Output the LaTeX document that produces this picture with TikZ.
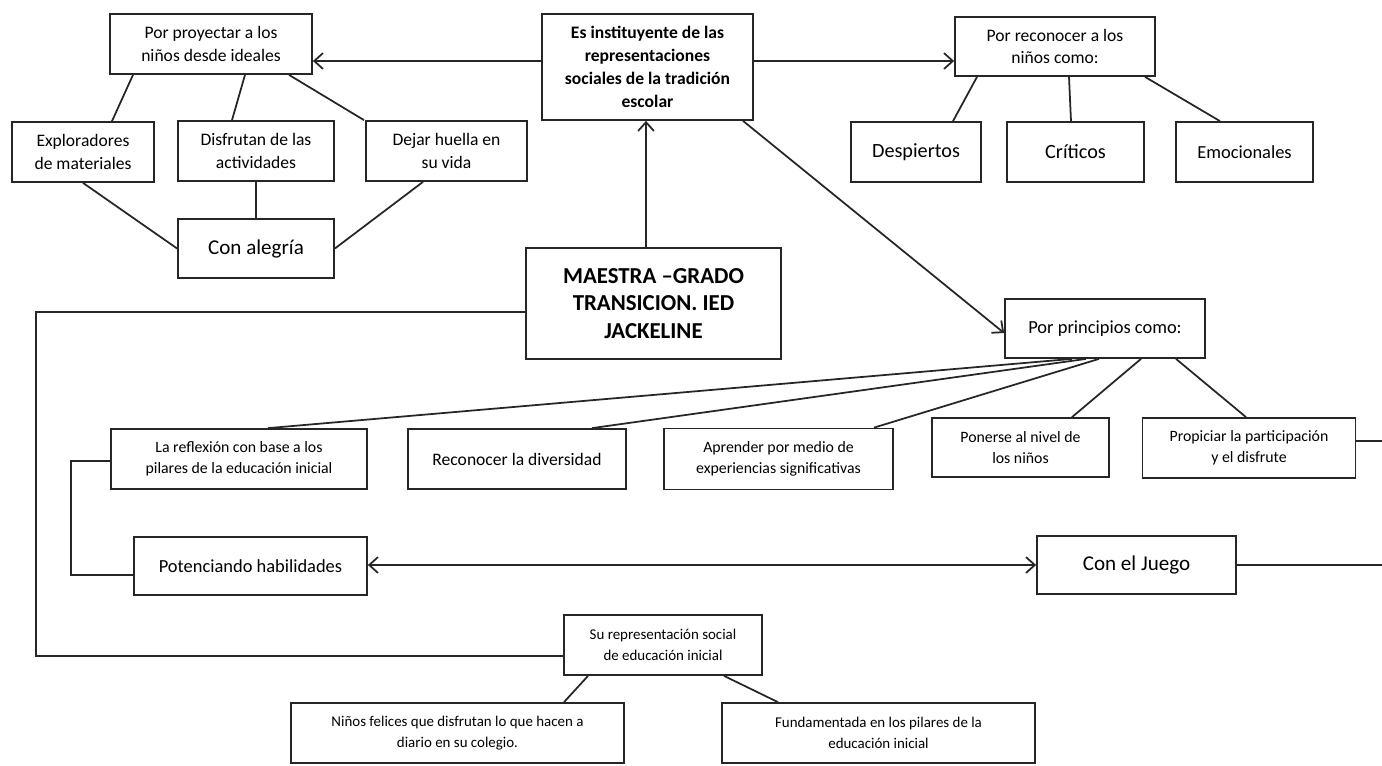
\documentclass[tikz,border=0pt]{standalone}
\usepackage{fontspec}
\setmainfont{Carlito}
\usetikzlibrary{arrows.meta}
\tikzset{
  bx/.style 2 args={draw=black!85, line width=1pt, fill=white, align=center, inner sep=2pt,
    minimum width=#1*0.02cm, minimum height=#2*0.02cm},
  fs/.style 2 args={font=\fontsize{#1}{#2}\selectfont},
  ln/.style={draw=black!85, line width=1pt},
  ar/.style={ln, -{Straight Barb[length=5pt,width=9pt]}},
  dar/.style={ln, {Straight Barb[length=5pt,width=9pt]}-{Straight Barb[length=5pt,width=9pt]}},
}
\begin{document}
\begin{tikzpicture}[x=0.02cm, y=-0.02cm]
\useasboundingbox (0,0) rectangle (1382,765);
% nodes
\node[bx={202}{60}, fs={10}{13}] (pp) at (211,44) {Por proyectar a los\\niños desde ideales};
\node[bx={142}{60}, fs={10}{13}] (ex) at (83,152) {Exploradores\\de materiales};
\node[bx={156}{60}, fs={10}{13}] (di) at (256,151) {Disfrutan de las\\actividades};
\node[bx={161}{60}, fs={10}{13}] (de) at (446.5,151) {Dejar huella en\\su vida};
\node[bx={156}{59}, fs={12}{14}] (ca) at (256,248.5) {Con alegría};
\node[bx={211}{106}, font=\bfseries\fontsize{10}{13}\selectfont] (es) at (647.5,67) {Es instituyente de las\\representaciones\\sociales de la tradición\\escolar};
\node[bx={255}{111}, font=\bfseries\fontsize{13}{15.5}\selectfont] (ma) at (653.5,303.5) {MAESTRA –GRADO\\TRANSICION. IED\\JACKELINE};
\node[bx={200}{59}, fs={10}{13}] (pr) at (1055,46.5) {Por reconocer a los\\niños como:};
\node[bx={130}{60}, fs={11.5}{14}] (dp) at (916,152) {Despiertos};
\node[bx={137}{60}, fs={11.5}{14}] (cr) at (1075.5,152) {Críticos};
\node[bx={137}{60}, fs={10.5}{13}] (em) at (1244.5,152) {Emocionales};
\node[bx={200}{59}, fs={10.5}{13}] (pc) at (1105,328.5) {Por principios como:};
\node[bx={256}{60}, fs={9}{12}] (rf) at (239,459) {La reflexión con base a los\\pilares de la educación inicial};
\node[bx={218}{60}, fs={10}{13}] (rd) at (517,459) {Reconocer la diversidad};
\node[bx={229}{61}, fs={9}{12}] (ap) at (778.5,459) {Aprender por medio de\\experiencias significativas};
\node[bx={177}{59}, fs={9}{12}] (po) at (1020.5,447.5) {Ponerse al nivel de\\los niños};
\node[bx={213}{60}, fs={9}{12}] (pa) at (1249,448) {Propiciar la participación\\y el disfrute};
\node[bx={233}{58}, fs={10.5}{13}] (ph) at (250.5,566) {Potenciando habilidades};
\node[bx={199}{58}, fs={12}{14}] (cj) at (1136.5,565) {Con el Juego};
\node[bx={198}{60}, fs={8.5}{12}] (sr) at (663,645) {Su representación social\\de educación inicial};
\node[bx={333}{60}, fs={8.5}{12}] (nf) at (457.5,733) {Niños felices que disfrutan lo que hacen a\\diario en su colegio.};
\node[bx={313}{60}, fs={8.5}{12}] (fu) at (878.5,733) {Fundamentada en los pilares de la\\educación inicial};
\coordinate (r1) at (1382,441);
\coordinate (r2) at (1382,565);
% arrows from the centre
\draw[ar] (es.west |- 0,61) -- (pp.east |- 0,61);
\draw[ar] (es.east |- 0,61) -- (pr.west |- 0,61);
\draw[ar] (646,0 |- ma.north) -- (646,0 |- es.south);
\draw[ar] (743,0 |- es.south) -- (pc.west |- 0,333);
% left cluster
\draw[ln] (133,0 |- pp.south) -- (112,0 |- ex.north);
\draw[ln] (245,0 |- pp.south) -- (232,0 |- di.north);
\draw[ln] (289,0 |- pp.south) -- (364,0 |- de.north);
\draw[ln] (83,0 |- ex.south) -- (ca.west);
\draw[ln] (di.south) -- (ca.north);
\draw[ln] (423,0 |- de.south) -- (ca.east);
% right cluster
\draw[ln] (977,0 |- pr.south) -- (953,0 |- dp.north);
\draw[ln] (1069,0 |- pr.south) -- (1071,0 |- cr.north);
\draw[ln] (1145,0 |- pr.south) -- (1220,0 |- em.north);
% principles
\draw[ln] (1072,0 |- pc.south) -- (268,0 |- rf.north);
\draw[ln] (1086,0 |- pc.south) -- (592,0 |- rd.north);
\draw[ln] (1099,0 |- pc.south) -- (874,0 |- ap.north);
\draw[ln] (1141,0 |- pc.south) -- (1072,0 |- po.north);
\draw[ln] (1176,0 |- pc.south) -- (1246,0 |- pa.north);
\draw[ln] (pa.east |- r1) -- (r1);
\draw[ln] (cj.east) -- (r2);
% bracket and double arrow
\draw[ln] (rf.west |- 0,461) -- (71,461) -- (71,575) -- (ph.west |- 0,575);
\draw[dar] (ph.east |- 0,565) -- (cj.west);
% outer loop to social representation
\draw[ln] (ma.west |- 0,312) -- (36,312) -- (36,656) -- (sr.west |- 0,656);
\draw[ln] (588,0 |- sr.south) -- (564,0 |- nf.north);
\draw[ln] (724,0 |- sr.south) -- (778,0 |- fu.north);
\end{tikzpicture}
\end{document}
